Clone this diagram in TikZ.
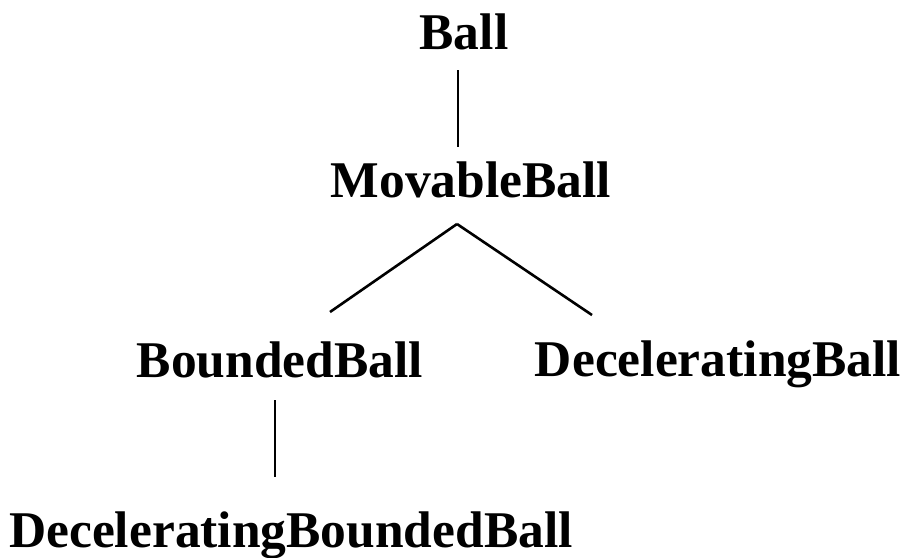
\documentclass[tikz,border=0pt]{standalone}
\usepackage{fontspec}
\setmainfont{Liberation Serif}
\usetikzlibrary{calc}
\begin{document}
\begin{tikzpicture}[x=1pt,y=-1pt,
  cls/.style={font=\fontsize{51.5}{60}\selectfont\bfseries, inner sep=0pt, anchor=base},
  link/.style={line width=2.6pt}]
\useasboundingbox (0,0) rectangle (909,557);

% class names
\node[cls] (ball)    at (464,49)  {Ball};
\node[cls] (movable) at (471,197) {MovableBall};
\node[cls] (bounded) at (280,377) {BoundedBall};
\node[cls] (decel)   at (718,376) {DeceleratingBall};
\node[cls] (decbnd)  at (291,547) {DeceleratingBoundedBall};

% end points of the inheritance links
\coordinate (ballfoot) at ($(ball.base)+(-6,21)$);
\coordinate (movhead)  at ($(movable.base)+(-13,-50)$);
\coordinate (movfoot)  at ($(movable.base)+(-14,27)$);
\coordinate (bndhead)  at ($(bounded.base)+(50,-65)$);
\coordinate (bndfoot)  at ($(bounded.base)+(-5,23)$);
\coordinate (dechead)  at ($(decel.base)+(-126,-61)$);
\coordinate (dbhead)   at ($(decbnd.base)+(-16,-70)$);

\draw[link] (ballfoot) -- (movhead);
\draw[link] (movfoot) -- (bndhead);
\draw[link] (movfoot) -- (dechead);
\draw[link] (bndfoot) -- (dbhead);
\end{tikzpicture}
\end{document}
